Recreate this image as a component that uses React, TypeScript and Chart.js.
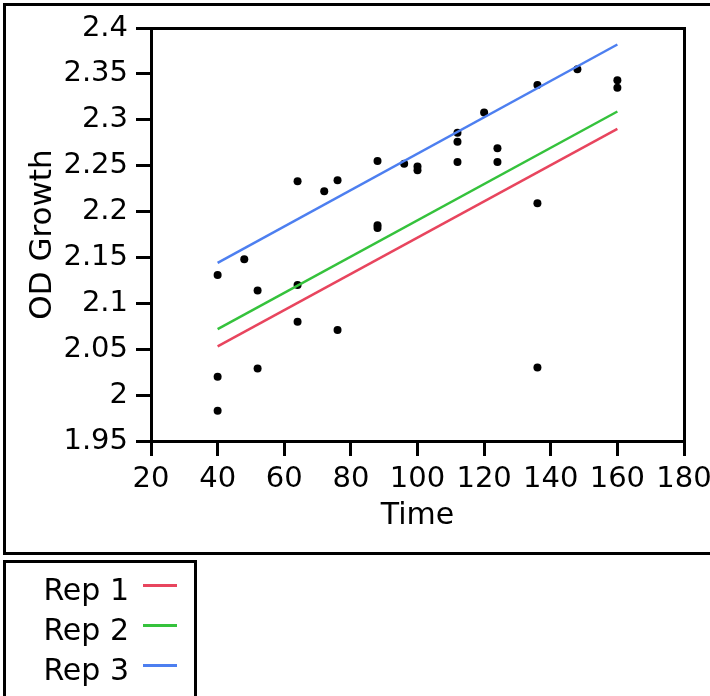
import React, { useEffect, useRef } from "react";
import { Chart, registerables } from "chart.js";

Chart.register(...registerables);

const xTicks = [20, 40, 60, 80, 100, 120, 140, 160, 180];
const yTicks = [1.95, 2, 2.05, 2.1, 2.15, 2.2, 2.25, 2.3, 2.35, 2.4];

const timeValues = [
  40, 40, 40, 48, 52, 52, 64, 64, 64, 72, 76, 76, 88, 88, 88,
  96, 100, 100, 112, 112, 112, 120, 124, 124, 136, 136, 136, 148, 160, 160,
];
const odValues = [
  2.131, 2.02, 1.983, 2.148, 2.114, 2.029, 2.233, 2.12, 2.08, 2.222, 2.234, 2.071,
  2.255, 2.185, 2.182, 2.252, 2.249, 2.245, 2.286, 2.276, 2.254, 2.308, 2.269, 2.254,
  2.338, 2.209, 2.03, 2.355, 2.343, 2.335,
];

const fitX = [40, 160];
const rep1Fit = [2.053, 2.29];
const rep2Fit = [2.072, 2.309];
const rep3Fit = [2.144, 2.382];

const repNames = ["Rep 1", "Rep 2", "Rep 3"];
const repColors = ["#e8455e", "#35c23c", "#4d7ff0"];

const FONT = "'DejaVu Sans', sans-serif";

export default function App() {
  const canvasRef = useRef<HTMLCanvasElement | null>(null);

  useEffect(() => {
    document.body.style.margin = "0";
    const canvas = canvasRef.current;
    if (!canvas) return;

    const framePlugin = {
      id: "frame",
      afterDraw(chart: any) {
        const { ctx, chartArea } = chart;
        ctx.save();
        ctx.strokeStyle = "#000";
        ctx.lineWidth = 3;
        ctx.beginPath();
        ctx.moveTo(Math.round(chartArea.left), Math.round(chartArea.top) + 0.5);
        ctx.lineTo(Math.round(chartArea.right) + 0.5, Math.round(chartArea.top) + 0.5);
        ctx.lineTo(Math.round(chartArea.right) + 0.5, Math.round(chartArea.bottom));
        ctx.stroke();
        ctx.restore();
      },
    };

    const fits = [rep1Fit, rep2Fit, rep3Fit];
    const fmt = (v: number) => String(parseFloat(Number(v).toFixed(2)));

    const chart = new Chart(canvas, {
      type: "scatter",
      data: {
        datasets: [
          ...fits.map((f, i) => ({
            type: "line" as const,
            label: repNames[i],
            data: fitX.map((x, j) => ({ x, y: f[j] })),
            borderColor: repColors[i],
            borderWidth: 2.5,
            pointRadius: 0,
            fill: false,
          })),
          {
            type: "scatter" as const,
            label: "OD",
            data: timeValues.map((t, i) => ({ x: t, y: odValues[i] })),
            backgroundColor: "#000",
            borderColor: "#000",
            borderWidth: 0,
            pointRadius: 4,
          },
        ],
      },
      options: {
        responsive: false,
        animation: false,
        layout: { padding: { left: 0, top: 28, right: 26, bottom: 162 } },
        plugins: { legend: { display: false }, tooltip: { enabled: false } },
        scales: {
          x: {
            type: "linear",
            min: 20,
            max: 180,
            afterBuildTicks: (s: any) => {
              s.ticks = xTicks.map((v) => ({ value: v }));
            },
            afterFit: (s: any) => {
              s.height = 93;
              s.paddingLeft = 0;
              s.paddingRight = 0;
            },
            grid: {
              display: true,
              drawOnChartArea: false,
              drawTicks: true,
              tickLength: 15,
              color: "#000",
              lineWidth: 3,
            },
            border: { display: true, color: "#000", width: 3 },
            ticks: {
              color: "#000",
              padding: 6,
              maxRotation: 0,
              autoSkip: false,
              font: { family: FONT, size: 29 },
              callback: (v: any) => fmt(v),
            },
            title: {
              display: true,
              text: "Time",
              color: "#000",
              padding: { top: 0, bottom: 0 },
              font: { family: FONT, size: 30 },
            },
          },
          y: {
            type: "linear",
            min: 1.95,
            max: 2.4,
            afterBuildTicks: (s: any) => {
              s.ticks = yTicks.map((v) => ({ value: v }));
            },
            afterFit: (s: any) => {
              s.width = 151;
              s.paddingTop = 0;
              s.paddingBottom = 0;
            },
            grid: {
              display: true,
              drawOnChartArea: false,
              drawTicks: true,
              tickLength: 15,
              color: "#000",
              lineWidth: 3,
            },
            border: { display: true, color: "#000", width: 3 },
            ticks: {
              color: "#000",
              padding: 8,
              autoSkip: false,
              font: { family: FONT, size: 29 },
              callback: (v: any) => fmt(v),
            },
            title: {
              display: true,
              text: "OD Growth",
              color: "#000",
              padding: { top: 24, bottom: 0 },
              font: { family: FONT, size: 31 },
            },
          },
        },
      },
      plugins: [framePlugin],
    });

    return () => chart.destroy();
  }, []);

  return (
    <div
      style={{
        position: "relative",
        width: 710,
        height: 696,
        overflow: "hidden",
        background: "#fff",
        fontFamily: FONT,
      }}
    >
      <div
        style={{
          position: "absolute",
          left: 3,
          top: 3,
          width: 730,
          height: 552,
          boxSizing: "border-box",
          border: "3px solid #000",
        }}
      />
      <canvas
        ref={canvasRef}
        width={710}
        height={696}
        style={{ position: "absolute", left: 0, top: 0, display: "block" }}
      />
      <div
        style={{
          position: "absolute",
          left: 3,
          top: 560,
          width: 194,
          height: 200,
          boxSizing: "border-box",
          border: "3px solid #000",
        }}
      />
      {repNames.map((name, i) => (
        <React.Fragment key={name}>
          <div
            style={{
              position: "absolute",
              left: 20,
              width: 109,
              top: 570 + i * 40,
              height: 40,
              lineHeight: "40px",
              fontSize: 30,
              textAlign: "right",
              color: "#000",
              whiteSpace: "nowrap",
            }}
          >
            {name}
          </div>
          <div
            style={{
              position: "absolute",
              left: 143,
              width: 34,
              top: 584 + i * 40,
              height: 3,
              background: repColors[i],
            }}
          />
        </React.Fragment>
      ))}
    </div>
  );
}
